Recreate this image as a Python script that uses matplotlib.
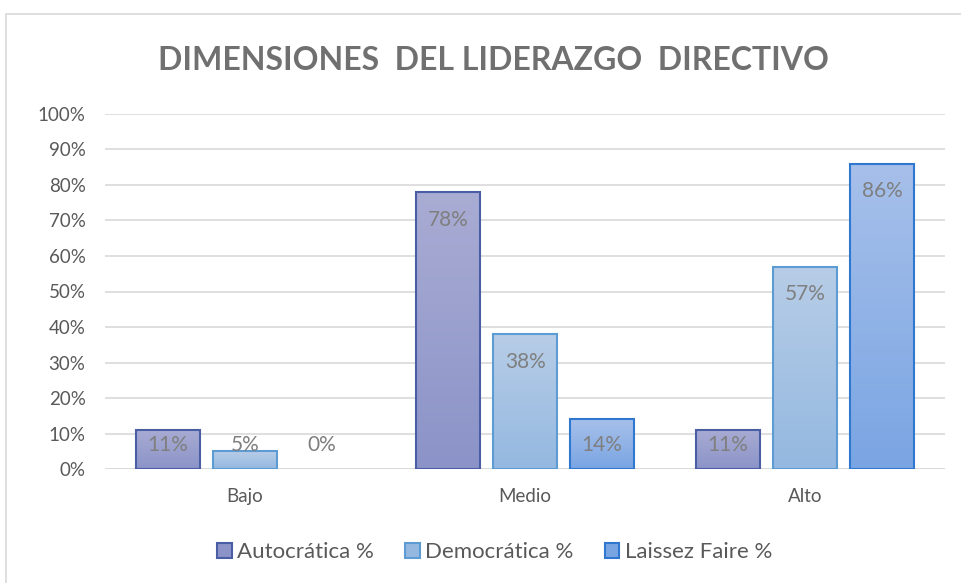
import numpy as np
import matplotlib.pyplot as plt
from matplotlib.colors import LinearSegmentedColormap
from matplotlib.patches import Rectangle

# data
categories = ['Bajo', 'Medio', 'Alto']
series = ['Autocrática %', 'Democrática %', 'Laissez Faire %']
autocratica = [0.11, 0.78, 0.11]
democratica = [0.05, 0.38, 0.57]
laissez = [0.00, 0.14, 0.86]
values = [autocratica, democratica, laissez]

# colours: (top, bottom, edge)
styles = [('#a9acd3', '#8b93c8', '#4a5ea6'),
          ('#b7cde7', '#94b8e0', '#5d9bd3'),
          ('#a7c0ea', '#7aa5e3', '#2f77cf')]

plt.rcParams['font.family'] = ['Lato', 'DejaVu Sans']
txt = '#595959'

fig = plt.figure(figsize=(9.61, 5.83), dpi=100)
ax = fig.add_axes([0.1093, 0.1955, 0.8741, 0.609])

# outer chart border
fig.patches.append(Rectangle((6/961, -0.01), 1.0, (583-14)/583 + 0.01,
                             transform=fig.transFigure, fill=False,
                             edgecolor='#d9d9d9', linewidth=1.2))

x = np.arange(len(categories))
w = 0.229
step = 0.275
grad = np.linspace(0, 1, 256).reshape(-1, 1)

for i, (vals, (top, bot, edge)) in enumerate(zip(values, styles)):
    pos = x + (i - 1) * step
    cmap = LinearSegmentedColormap.from_list('g%d' % i, [bot, top])
    for p, v in zip(pos, vals):
        if v > 0:
            b = ax.bar(p, v, w, facecolor='none', edgecolor=edge,
                       linewidth=1.5, zorder=3)[0]
            im = ax.imshow(grad, cmap=cmap, origin='lower', aspect='auto',
                           extent=[p - w / 2, p + w / 2, 0, v], zorder=2)
            im.set_clip_path(b)
        ax.text(p, max(v - 0.078, 0.068), '%d%%' % round(v * 100),
                ha='center', va='center', fontsize=15, color='#7f7f7f', zorder=4)

ax.set_xlim(-0.5, 2.5)
ax.set_ylim(0, 1.0)
ax.set_yticks(np.arange(0, 1.01, 0.1))
ax.set_yticklabels(['%d%%' % t for t in range(0, 101, 10)])
ax.set_xticks(x)
ax.set_xticklabels(categories)
ax.tick_params(axis='both', length=0, labelsize=13.5, labelcolor=txt)
ax.tick_params(axis='x', pad=14)
ax.tick_params(axis='y', pad=14)
ax.grid(axis='y', color='#d9d9d9', linewidth=1.2, zorder=0)
for s in ax.spines.values():
    s.set_visible(False)
ax.axhline(0, color='#d9d9d9', linewidth=1.2, zorder=1)

fig.text(0.513, 1 - 60/583, 'DIMENSIONES  DEL LIDERAZGO  DIRECTIVO', ha='center',
         va='center', fontsize=23, fontweight='bold', color='#707070')

handles = [Rectangle((0, 0), 1, 1, facecolor=s[1], edgecolor=s[2], linewidth=1.5)
           for s in styles]
fig.legend(handles, series, loc='center', bbox_to_anchor=(0.515, 1 - 552/583),
           ncol=3, frameon=False, fontsize=16, labelcolor=txt,
           handlelength=0.65, handleheight=0.65, handletextpad=0.25, columnspacing=1.4)

fig.savefig('out.png', dpi=100)
